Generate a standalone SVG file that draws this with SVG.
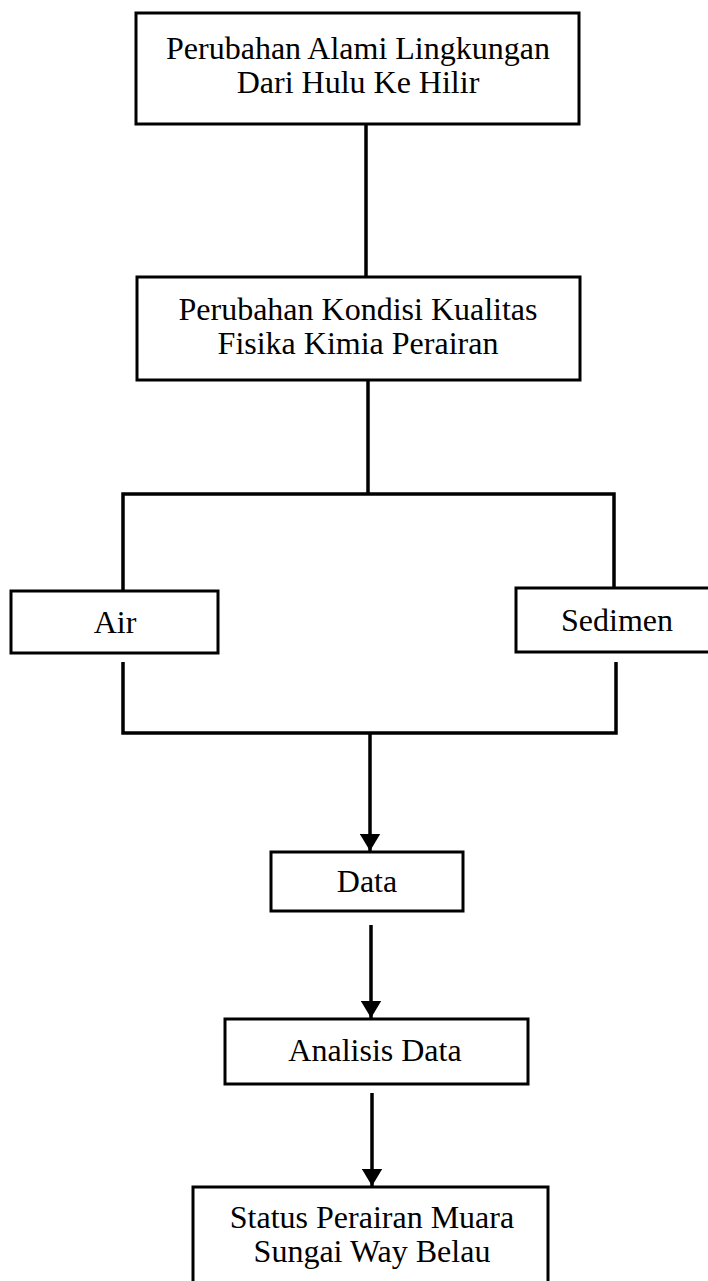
<svg xmlns="http://www.w3.org/2000/svg" width="708" height="1281" viewBox="0 0 708 1281">
<style>
.box{fill:#fff;stroke:#000;stroke-width:3}
.t{font-family:"Liberation Serif","Times New Roman",serif;font-size:32px;fill:#000;text-anchor:middle}
.ln{stroke:#000;stroke-width:3.5;fill:none}
</style>
<defs>
<marker id="ah" markerWidth="6" markerHeight="6" refX="5" refY="3" orient="auto" markerUnits="strokeWidth">
<path d="M0,0 L5,3 L0,6 Z" fill="#000"/>
</marker>
</defs>
<rect width="708" height="1281" fill="#fff"/>
<g id="connectors">
<line class="ln" x1="366" y1="125" x2="366" y2="277"/>
<line class="ln" x1="368" y1="380" x2="368" y2="494"/>
<polyline class="ln" points="123,592 123,494 614,494 614,588"/>
<polyline class="ln" points="123,662 123,733 616,733 616,662"/>
<line class="ln" x1="370" y1="733" x2="370" y2="851" marker-end="url(#ah)"/>
<line class="ln" x1="371" y1="925" x2="371" y2="1018" marker-end="url(#ah)"/>
<line class="ln" x1="372" y1="1093" x2="372" y2="1186" marker-end="url(#ah)"/>
</g>
<g id="n1">
<rect class="box" x="136" y="13" width="443" height="111"/>
<text class="t" x="358" y="59">Perubahan Alami Lingkungan</text>
<text class="t" x="358" y="93">Dari Hulu Ke Hilir</text>
</g>
<g id="n2">
<rect class="box" x="137" y="277" width="443" height="103"/>
<text class="t" x="358" y="320">Perubahan Kondisi Kualitas</text>
<text class="t" x="358" y="354">Fisika Kimia Perairan</text>
</g>
<g id="n3">
<rect class="box" x="11" y="591" width="207" height="62"/>
<text class="t" x="115" y="633">Air</text>
</g>
<g id="n4">
<rect class="box" x="516" y="588" width="200" height="64"/>
<text class="t" x="617" y="631">Sedimen</text>
</g>
<g id="n5">
<rect class="box" x="271" y="852" width="192" height="59"/>
<text class="t" x="367" y="892">Data</text>
</g>
<g id="n6">
<rect class="box" x="225" y="1019" width="303" height="65"/>
<text class="t" x="375" y="1061">Analisis Data</text>
</g>
<g id="n7">
<rect class="box" x="193" y="1187" width="355" height="110"/>
<text class="t" x="372" y="1228">Status Perairan Muara</text>
<text class="t" x="372" y="1262">Sungai Way Belau</text>
</g>
</svg>
